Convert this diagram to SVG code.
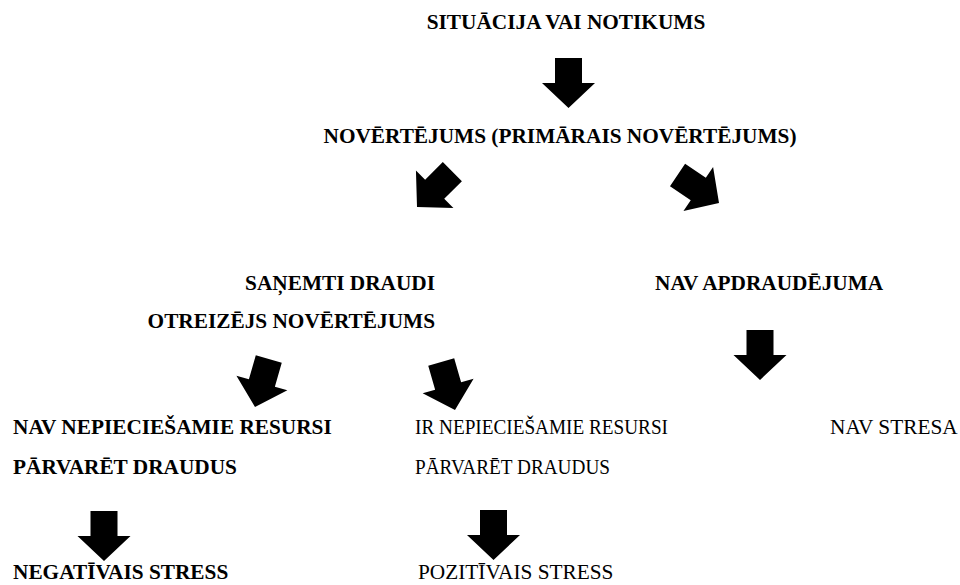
<svg xmlns="http://www.w3.org/2000/svg" xmlns:xlink="http://www.w3.org/1999/xlink" width="960" height="585" viewBox="0 0 960 585">
  <style>
    text { font-family: "Liberation Serif", "Times New Roman", serif; font-size: 21.3px; fill: #000; }
    .b { font-weight: bold; }
    .arrow { fill: #000; }
  </style>
  <defs>
    <!-- block arrow, tip at origin, pointing down -->
    <path id="blk" class="arrow" d="M-13.5,-50 L13.5,-50 L13.5,-25 L26.5,-25 L0,0 L-26.5,-25 L-13.5,-25 Z"/>
  </defs>
  <rect width="960" height="585" fill="#fff"/>

  <g id="connectors">
    <use xlink:href="#blk" transform="translate(568.5,108)"/>
    <use xlink:href="#blk" transform="translate(417,207) rotate(45)"/>
    <use xlink:href="#blk" transform="translate(719,203) rotate(-56)"/>
    <use xlink:href="#blk" transform="translate(255,407) rotate(16)"/>
    <use xlink:href="#blk" transform="translate(455,410) rotate(-16)"/>
    <use xlink:href="#blk" transform="translate(760,380)"/>
    <use xlink:href="#blk" transform="translate(104,561)"/>
    <use xlink:href="#blk" transform="translate(493.5,560)"/>
  </g>

  <g id="situacija"><text class="b" x="566" y="29" text-anchor="middle">SITUĀCIJA VAI NOTIKUMS</text></g>
  <g id="novertejums"><text class="b" x="560" y="143" text-anchor="middle">NOVĒRTĒJUMS (PRIMĀRAIS NOVĒRTĒJUMS)</text></g>
  <g id="draudi">
    <text class="b" x="435" y="290" text-anchor="end">SAŅEMTI DRAUDI</text>
    <text class="b" x="435" y="328" text-anchor="end">OTREIZĒJS NOVĒRTĒJUMS</text>
  </g>
  <g id="nav-apdraudejuma"><text class="b" x="655" y="290">NAV APDRAUDĒJUMA</text></g>
  <g id="nav-resursi">
    <text class="b" x="13" y="434">NAV NEPIECIEŠAMIE RESURSI</text>
    <text class="b" x="13" y="474">PĀRVARĒT DRAUDUS</text>
  </g>
  <g id="ir-resursi">
    <text x="415" y="434" textLength="253" lengthAdjust="spacingAndGlyphs">IR NEPIECIEŠAMIE RESURSI</text>
    <text x="415" y="474" textLength="195" lengthAdjust="spacingAndGlyphs">PĀRVARĒT DRAUDUS</text>
  </g>
  <g id="nav-stresa"><text x="830" y="434">NAV STRESA</text></g>
  <g id="negativais"><text class="b" x="13" y="579">NEGATĪVAIS STRESS</text></g>
  <g id="pozitivais"><text x="418" y="579">POZITĪVAIS STRESS</text></g>
</svg>
